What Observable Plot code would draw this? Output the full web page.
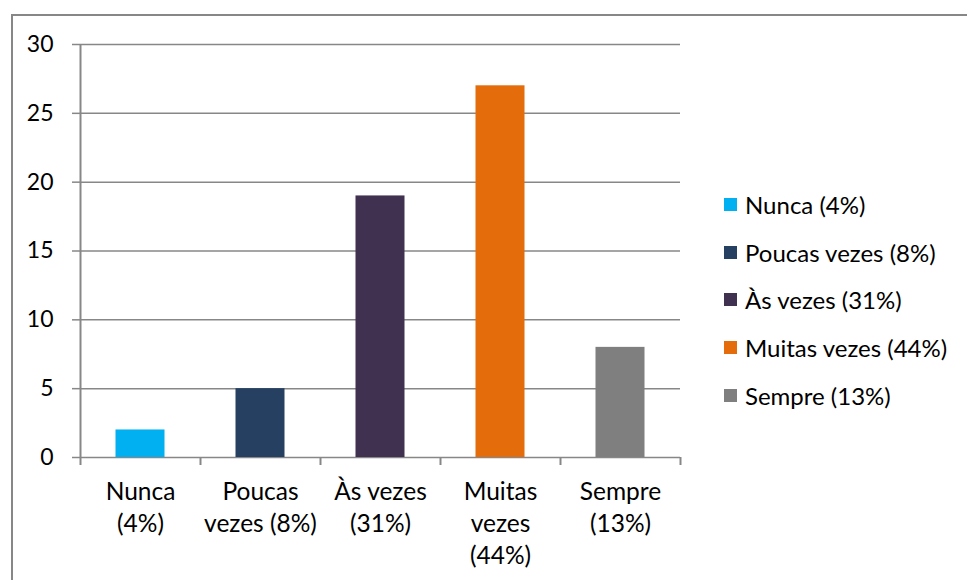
<!DOCTYPE html>
<html>
<head>
<meta charset="utf-8">
<script src="https://cdn.jsdelivr.net/npm/d3@7"></script>
<script src="https://cdn.jsdelivr.net/npm/@observablehq/plot@0.6"></script>
<style>
  html, body { margin: 0; padding: 0; background: #fff; }
  #wrap { position: relative; width: 967px; height: 580px; overflow: hidden; font-family: Lato, "Noto Sans", sans-serif; }
  #border { position: absolute; left: 11px; top: 14px; width: 2000px; height: 2000px; border-left: 2px solid #878787; border-top: 2px solid #878787; box-sizing: border-box; pointer-events: none; }
  #legend { position: absolute; left: 724px; top: 181px; }
  .row { display: flex; align-items: center; height: 47.6px; font-size: 24px; color: #000; white-space: nowrap; }
  .sw { width: 13px; height: 13px; margin-right: 8px; flex: none; }
</style>
</head>
<body>
<div id="wrap"><div id="border"></div><div id="chart"></div><div id="legend"></div></div>
<script>
const categories = ["Nunca (4%)", "Poucas vezes (8%)", "Às vezes (31%)", "Muitas vezes (44%)", "Sempre (13%)"];
const axisLabels = ["Nunca\n(4%)", "Poucas\nvezes (8%)", "Às vezes\n(31%)", "Muitas\nvezes\n(44%)", "Sempre\n(13%)"];
const values = [2, 5, 19, 27, 8];
const colors = ["#00B0F0", "#254061", "#403151", "#E46C0A", "#7F7F7F"];
const yTicks = [0, 5, 10, 15, 20, 25, 30];

const data = categories.map((c, i) => ({i, cat: c, label: axisLabels[i], value: values[i], color: colors[i]}));
const boundaries = d3.range(categories.length + 1);
const grid = "#878787";

const chart = Plot.plot({
  width: 967,
  height: 580,
  marginLeft: 80,
  marginRight: 287,
  marginTop: 44,
  marginBottom: 123,
  style: {fontFamily: "Lato, 'Noto Sans', sans-serif", fontSize: "24px", color: "#000", background: "transparent"},
  x: {type: "linear", domain: [0, categories.length], axis: null},
  y: {domain: [0, 30], axis: null},
  marks: [
    Plot.ruleY(yTicks, {stroke: grid, strokeWidth: 1.5}),
    Plot.ruleX([0], {stroke: grid, strokeWidth: 2}),
    Plot.rectY(data, {x1: d => d.i, x2: d => d.i + 1, y: "value", fill: "color", insetLeft: 35.5, insetRight: 35.5}),
    Plot.axisX({ticks: boundaries, tickSize: 8, tickFormat: () => "", label: null, stroke: grid, strokeWidth: 2}),
    Plot.axisY({ticks: yTicks, tickSize: 8, tickPadding: 19, label: null, stroke: grid, strokeWidth: 1.5, fontSize: 23, fill: "#000"}),
    Plot.text(data, {x: d => d.i + 0.5, y: 0, text: "label", lineAnchor: "top", dy: 20, lineHeight: 1.31, fontSize: 24.5, fill: "#000"})
  ]
});
document.getElementById("chart").appendChild(chart);

const legend = document.getElementById("legend");
data.forEach(d => {
  const row = document.createElement("div");
  row.className = "row";
  const sw = document.createElement("span");
  sw.className = "sw";
  sw.style.background = d.color;
  const t = document.createElement("span");
  t.textContent = d.cat;
  row.appendChild(sw);
  row.appendChild(t);
  legend.appendChild(row);
});
</script>
</body>
</html>
